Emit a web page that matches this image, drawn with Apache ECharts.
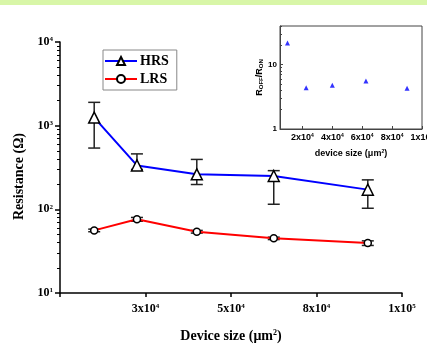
<!DOCTYPE html>
<html>
<head>
<meta charset="utf-8">
<script src="https://cdn.jsdelivr.net/npm/echarts@6/dist/echarts.min.js"></script>
<style>
  html, body { margin: 0; padding: 0; background: #fff; }
  #chart { width: 427px; height: 360px; }
</style>
</head>
<body>
<div id="chart"></div>
<script>
// device areas (um^2)
const sizes = [10000, 22500, 40000, 62500, 90000]
const hrs = [1250, 335, 262, 250, 172]
const hrsLow = [540, 300, 198, 115, 103]
const hrsHigh = [1900, 460, 395, 290, 225]
const lrs = [56, 76, 54, 45, 39.5]
const lrsLow = [54, 72, 52, 43.5, 37]
const lrsHigh = [58, 80, 56, 46.5, 42]
// inset: R_off / R_on
const ratio = [21.7, 4.4, 4.8, 5.6, 4.3]

const xTickLabels = ['', '3x10{s|4}', '5x10{s|4}', '8x10{s|4}', '1x10{s|5}']
const insetXTicks = [20000, 40000, 60000, 80000, 100000]
const insetXLabels = ['2x10{s|4}', '4x10{s|4}', '6x10{s|4}', '8x10{s|4}', '1x10{s|5}']

const serif = 'Liberation Serif'
const sans = 'Liberation Sans'

const minorTicks = function (lo, hi) {
    const out = []
    for (let d = lo; d < hi; d *= 10) {
        for (let k = 2; k <= 9; k++) out.push(d * k)
    }
    return out
}

const pow = function (v) {
    const e = Math.round(Math.log10(v))
    return '10{s|' + e + '}'
}

const errorBars = function (xs, lo, hi) {
    return xs.map((x, i) => [x, lo[i], hi[i]])
}

const renderErr = function (params, api) {
    const top = api.coord([api.value(0), api.value(2)])
    const bot = api.coord([api.value(0), api.value(1)])
    const w = 6
    const style = { stroke: '#222', lineWidth: 1.5 }
    return {
        type: 'group',
        children: [
            { type: 'line', shape: { x1: top[0], y1: top[1], x2: bot[0], y2: bot[1] }, style },
            { type: 'line', shape: { x1: top[0] - w, y1: top[1], x2: top[0] + w, y2: top[1] }, style },
            { type: 'line', shape: { x1: bot[0] - w, y1: bot[1], x2: bot[0] + w, y2: bot[1] }, style }
        ]
    }
}

const supRich = {
    s: { fontSize: 7, verticalAlign: 'top', fontWeight: 'bold', fontFamily: serif, color: '#000' }
}
const supRichSans = {
    s: { fontSize: 5, verticalAlign: 'top', fontWeight: 'bold', fontFamily: sans, color: '#000' }
}

const chart = echarts.init(document.getElementById('chart'))
chart.setOption({
    animation: false,
    backgroundColor: '#fff',
    graphic: [{
        type: 'rect',
        shape: { x: 0, y: 0, width: 427, height: 5 },
        style: { fill: '#d8f6a8' },
        silent: true
    }],
    legend: {
        data: ['HRS', 'LRS'],
        orient: 'vertical',
        left: 103,
        top: 50,
        itemWidth: 32,
        itemHeight: 10,
        itemGap: 4,
        padding: [4, 8, 4, 1],
        borderColor: '#888',
        borderWidth: 1,
        textStyle: { fontFamily: serif, fontWeight: 'bold', fontSize: 14, color: '#000', padding: [0, 0, 0, -2] }
    },
    grid: [
        { left: 60, right: 25, top: 42, bottom: 67, outerBoundsMode: 'none' },
        { left: 280, top: 26, width: 142, height: 103, outerBoundsMode: 'none', show: true, backgroundColor: '#fff', borderColor: '#444', borderWidth: 1, z: 10 }
    ],
    xAxis: [{
        type: 'value',
        gridIndex: 0,
        min: 0,
        max: 100000,
        interval: 25000,
        name: 'Device size (μm{s|2})',
        nameLocation: 'middle',
        nameGap: 36,
        nameTextStyle: { fontFamily: serif, fontWeight: 'bold', fontSize: 14, color: '#000', rich: { s: { fontSize: 8, verticalAlign: 'top', fontWeight: 'bold', fontFamily: serif } } },
        axisLine: { lineStyle: { color: '#000', width: 1.5 } },
        axisTick: { length: 4, lineStyle: { color: '#000', width: 1.5 } },
        axisLabel: {
            margin: 10,
            fontFamily: serif, fontWeight: 'bold', fontSize: 12, color: '#000',
            formatter: function (v) { return xTickLabels[Math.round(v / 25000)] },
            rich: supRich
        },
        splitLine: { show: false }
    }, {
        type: 'value',
        gridIndex: 1,
        min: 5000,
        max: 100000,
        name: 'device size (μm{s|2})',
        nameLocation: 'middle',
        nameGap: 20,
        nameTextStyle: { fontFamily: sans, fontWeight: 'bold', fontSize: 9, color: '#000', rich: supRichSans },
        axisLine: { lineStyle: { color: '#444' } },
        axisTick: { inside: true, length: 3, customValues: insetXTicks, lineStyle: { color: '#444' } },
        axisLabel: {
            customValues: insetXTicks,
            margin: 4,
            fontFamily: sans, fontWeight: 'bold', fontSize: 9, color: '#000',
            formatter: function (v) { return insetXLabels[insetXTicks.indexOf(v)] },
            rich: supRichSans
        },
        splitLine: { show: false },
        z: 11
    }],
    yAxis: [{
        type: 'log',
        gridIndex: 0,
        position: 'left',
        min: 10,
        max: 10000,
        logBase: 10,
        name: 'Resistance (Ω)',
        nameLocation: 'middle',
        nameGap: 28,
        nameTextStyle: { fontFamily: serif, fontWeight: 'bold', fontSize: 14, color: '#000', padding: [0, 18, 0, 0] },
        axisLine: { lineStyle: { color: '#000', width: 1.5 } },
        axisTick: { length: 5, lineStyle: { color: '#000', width: 1.5 } },
        axisLabel: {
            margin: 7,
            fontFamily: serif, fontWeight: 'bold', fontSize: 12, color: '#000',
            formatter: pow,
            rich: supRich
        },
        splitLine: { show: false }
    }, {
        type: 'log',
        gridIndex: 0,
        position: 'left',
        min: 10,
        max: 10000,
        axisLine: { show: false },
        axisTick: { length: 3, customValues: minorTicks(10, 10000), lineStyle: { color: '#000', width: 1 } },
        axisLabel: { show: false },
        splitLine: { show: false }
    }, {
        type: 'log',
        gridIndex: 1,
        position: 'left',
        min: 1,
        max: 40,
        name: '{a|R}{b|OFF}{a|/R}{b|ON}',
        nameLocation: 'middle',
        nameGap: 14,
        nameTextStyle: {
            rich: {
                a: { fontFamily: sans, fontWeight: 'bold', fontSize: 9, color: '#000' },
                b: { fontFamily: sans, fontWeight: 'bold', fontSize: 6, color: '#000', verticalAlign: 'bottom' }
            }
        },
        axisLine: { lineStyle: { color: '#444' } },
        axisTick: { inside: true, length: 3, customValues: [1, 10], lineStyle: { color: '#444' } },
        axisLabel: {
            customValues: [1, 10],
            margin: 3,
            fontFamily: sans, fontWeight: 'bold', fontSize: 8, color: '#000'
        },
        splitLine: { show: false },
        z: 11
    }, {
        type: 'log',
        gridIndex: 1,
        position: 'left',
        min: 1,
        max: 40,
        axisLine: { show: false },
        axisTick: { inside: true, length: 2, customValues: minorTicks(1, 40).filter(v => v <= 40), lineStyle: { color: '#444' } },
        axisLabel: { show: false },
        splitLine: { show: false },
        z: 11
    }],
    series: [{
        name: 'HRS',
        type: 'line',
        xAxisIndex: 0,
        yAxisIndex: 0,
        data: sizes.map((x, i) => [x, hrs[i]]),
        symbol: 'triangle',
        symbolSize: 11,
        lineStyle: { color: '#0000ff', width: 2 },
        itemStyle: { color: '#fff', borderColor: '#000', borderWidth: 1.5 },
        z: 3
    }, {
        name: 'LRS',
        type: 'line',
        xAxisIndex: 0,
        yAxisIndex: 0,
        data: sizes.map((x, i) => [x, lrs[i]]),
        symbol: 'circle',
        symbolSize: 7,
        lineStyle: { color: '#ff0000', width: 2 },
        itemStyle: { color: '#fff', borderColor: '#000', borderWidth: 1.5 },
        z: 3
    }, {
        type: 'custom',
        xAxisIndex: 0,
        yAxisIndex: 0,
        renderItem: renderErr,
        data: errorBars(sizes, hrsLow, hrsHigh),
        z: 2
    }, {
        type: 'custom',
        xAxisIndex: 0,
        yAxisIndex: 0,
        renderItem: renderErr,
        data: errorBars(sizes, lrsLow, lrsHigh),
        z: 2
    }, {
        name: 'ratio',
        type: 'scatter',
        xAxisIndex: 1,
        yAxisIndex: 2,
        data: sizes.map((x, i) => [x, ratio[i]]),
        symbol: 'triangle',
        symbolSize: 5,
        itemStyle: { color: '#0000ff' },
        z: 12
    }]
})
</script>
</body>
</html>
